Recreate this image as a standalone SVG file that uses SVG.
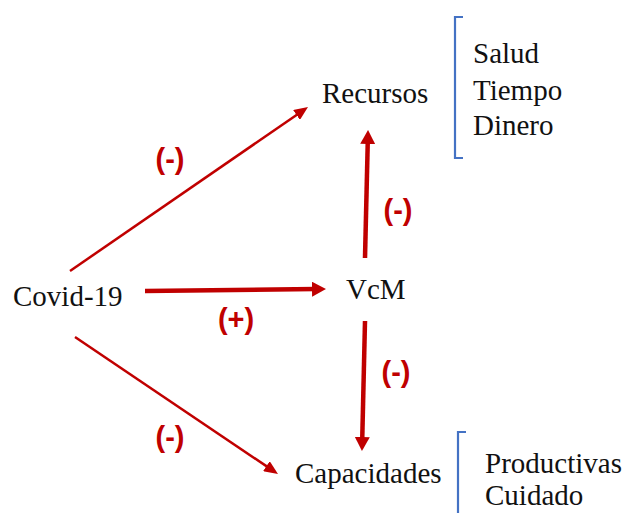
<svg xmlns="http://www.w3.org/2000/svg" width="622" height="513" viewBox="0 0 622 513">
<defs>
<style>
.node{font-family:"Liberation Serif","Times New Roman",serif;font-size:29px;fill:#111;}
.lbl{font-family:"Liberation Sans",Arial,sans-serif;font-size:29px;font-weight:bold;fill:#C00000;text-anchor:middle;}
.thin{stroke:#C00000;stroke-width:2.5;fill:none;marker-end:url(#ahThin);}
.thick{stroke:#C00000;stroke-width:4.5;fill:none;marker-end:url(#ahThick);}
.br{stroke:#4472C4;stroke-width:2.2;fill:none;}
</style>
<marker id="ahThin" markerUnits="userSpaceOnUse" viewBox="0 0 14 12" markerWidth="14" markerHeight="12" refX="4" refY="6" orient="auto">
<path d="M0,0 L14,6 L0,12 z" fill="#C00000"/>
</marker>
<marker id="ahThick" markerUnits="userSpaceOnUse" viewBox="0 0 14 15" markerWidth="14" markerHeight="15" refX="4" refY="7.5" orient="auto">
<path d="M0,0 L14,7.5 L0,15 z" fill="#C00000"/>
</marker>
</defs>
<rect width="622" height="513" fill="#fff"/>
<g id="connectors">
<line class="thin" x1="70" y1="271" x2="299.8" y2="112.7"/>
<line class="thick" x1="145" y1="291" x2="316" y2="289.1"/>
<line class="thick" x1="365" y1="258" x2="367.8" y2="140"/>
<line class="thick" x1="365" y1="321" x2="362.2" y2="441"/>
<line class="thin" x1="75" y1="337" x2="269.7" y2="468.4"/>
<text class="lbl" x="170" y="169">(-)</text>
<text class="lbl" x="398" y="220">(-)</text>
<text class="lbl" x="236" y="329">(+)</text>
<text class="lbl" x="396" y="382">(-)</text>
<text class="lbl" x="170" y="447">(-)</text>
</g>
<g id="covid"><text class="node" x="13" y="306">Covid-19</text></g>
<g id="recursos"><text class="node" x="322" y="103">Recursos</text></g>
<g id="vcm"><text class="node" x="346" y="299">VcM</text></g>
<g id="capacidades"><text class="node" x="295" y="483">Capacidades</text></g>
<g id="recursos-list">
<path class="br" d="M463,17 L455,17 L455,158 L463,158"/>
<text class="node" x="473" y="63">Salud</text>
<text class="node" x="473" y="100">Tiempo</text>
<text class="node" x="473" y="135">Dinero</text>
</g>
<g id="capacidades-list">
<path class="br" d="M466,432 L458,432 L458,513"/>
<text class="node" x="485" y="473">Productivas</text>
<text class="node" x="485" y="505">Cuidado</text>
</g>
</svg>
